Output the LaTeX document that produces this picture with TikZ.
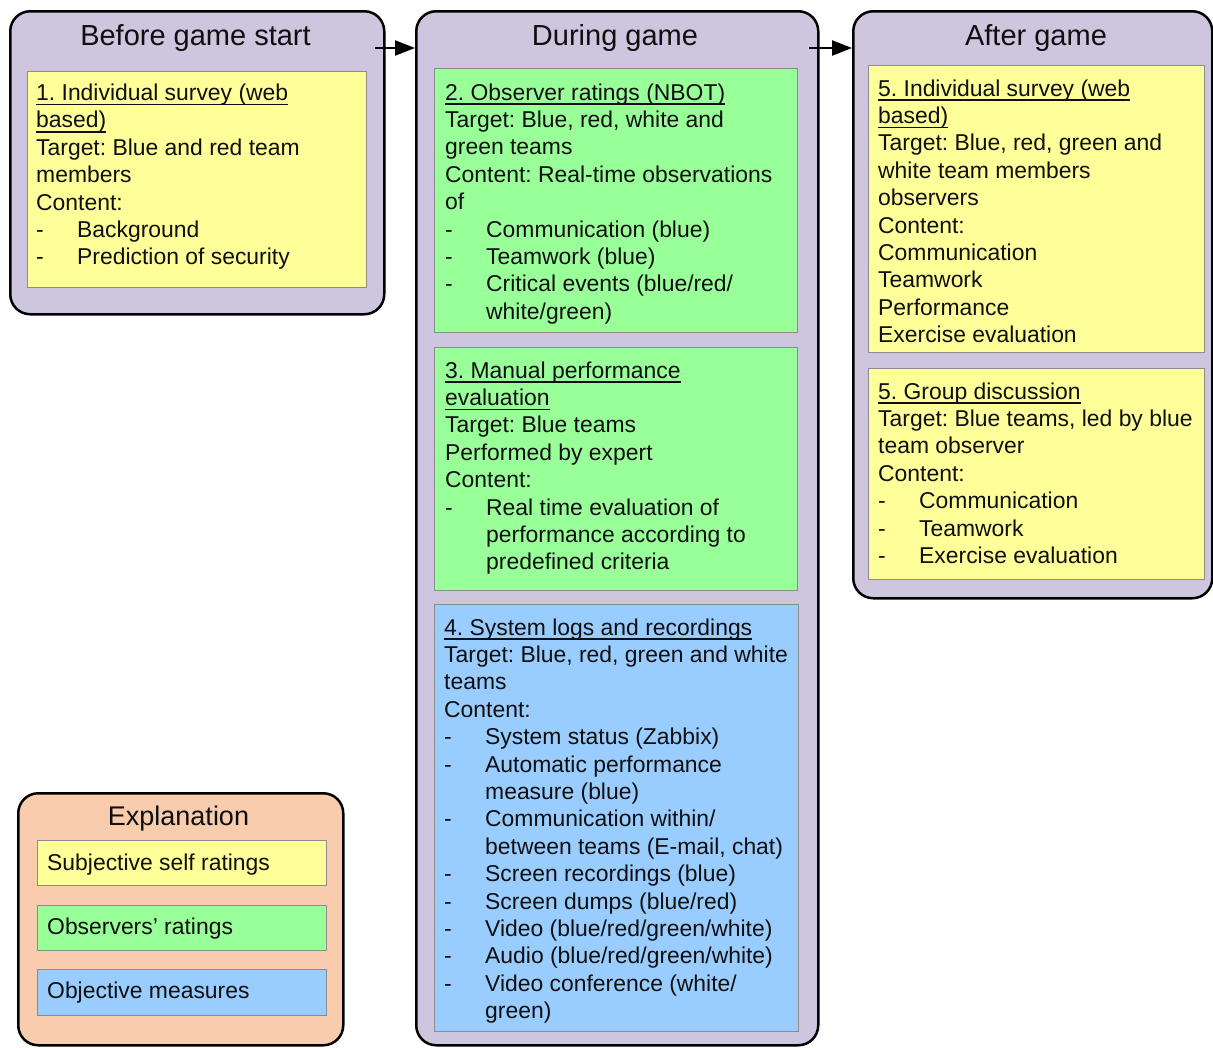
\documentclass[tikz,border=0pt]{standalone}
\usepackage{fontspec}
\setmainfont{Liberation Sans}
\usetikzlibrary{arrows.meta}
\definecolor{lav}{RGB}{205,198,222}
\definecolor{peach}{RGB}{248,204,172}
\definecolor{ylw}{RGB}{255,255,153}
\definecolor{grn}{RGB}{153,255,153}
\definecolor{blu}{RGB}{153,204,255}
\definecolor{ink}{RGB}{15,15,15}
\frenchspacing
\newcommand\myul[1]{\leavevmode\setbox0\hbox{#1}\rlap{\rule[-4.6pt]{\wd0}{1.3pt}}\box0}
\newcommand\bul[1]{\leavevmode\makebox[41pt][l]{-}#1}
\newcommand\cont[1]{\leavevmode\hspace*{41pt}#1}
\newcommand\bodyfont{\fontsize{22.9pt}{27.4pt}\selectfont}
\tikzset{
  outerbox/.style={draw=black, line width=2.5pt, rounded corners=20pt, anchor=north west, inner sep=0pt},
  innerbox/.style={draw=black!45, line width=1pt, anchor=north west, inner sep=0pt},
  txt/.style={anchor=base west, inner sep=0pt, font=\bodyfont, text=ink},
  ttl/.style={anchor=base, inner sep=0pt, font=\fontsize{29pt}{34pt}\selectfont, text=ink},
  arr/.style={line width=2.2pt, -{Triangle[length=20pt,width=15pt]}}
}
\begin{document}
\begin{tikzpicture}[x=1pt,y=-1pt]
\useasboundingbox (0,0) rectangle (1213,1047);
% outer boxes
\node[outerbox, fill=lav, minimum width=374pt, minimum height=303pt] (before) at (9,10) {};
\node[outerbox, fill=lav, minimum width=402pt, minimum height=1034pt] (during) at (415,10) {};
\node[outerbox, fill=lav, minimum width=359pt, minimum height=587pt] (after) at (852,10) {};
\node[outerbox, fill=peach, minimum width=325pt, minimum height=252pt] (expl) at (17,792) {};
% inner boxes
\node[innerbox, fill=ylw, minimum width=339pt, minimum height=216pt] (b1) at (27,71) {};
\node[innerbox, fill=grn, minimum width=363pt, minimum height=264pt] (b2) at (434,68) {};
\node[innerbox, fill=grn, minimum width=363pt, minimum height=243pt] (b3) at (434,347) {};
\node[innerbox, fill=blu, minimum width=364pt, minimum height=427pt] (b4) at (434,604) {};
\node[innerbox, fill=ylw, minimum width=336pt, minimum height=287pt] (b5) at (868,65) {};
\node[innerbox, fill=ylw, minimum width=336pt, minimum height=211pt] (b6) at (868,368) {};
\node[innerbox, fill=ylw, minimum width=289pt, minimum height=45pt] (l1) at (37,840) {};
\node[innerbox, fill=grn, minimum width=289pt, minimum height=45pt] (l2) at (37,905) {};
\node[innerbox, fill=blu, minimum width=289pt, minimum height=46pt] (l3) at (37,969) {};
% titles
\node[ttl] (tbefore) at (195.5,45) {Before game start};
\node[ttl] (tduring) at (615,45) {During game};
\node[ttl] (tafter) at (1036,45) {After game};
\node[ttl, font=\fontsize{27pt}{32pt}\selectfont] (texpl) at (178.5,825) {Explanation};
% texts
\node[txt] (x1) at (36,100.5) {\parbox[t]{380pt}{\bodyfont
\myul{1. Individual survey (web}\\
\myul{based)}\\
Target: Blue and red team\\
members\\
Content:\\
\bul{Background}\\
\bul{Prediction of security}}};
\node[txt] (x2) at (445,100) {\parbox[t]{380pt}{\bodyfont
\myul{2. Observer ratings (NBOT)}\\
Target: Blue, red, white and\\
green teams\\
Content: Real-time observations\\
of\\
\bul{Communication (blue)}\\
\bul{Teamwork (blue)}\\
\bul{Critical events (blue/red/}\\
\cont{white/green)}}};
\node[txt] (x3) at (445,378) {\parbox[t]{380pt}{\bodyfont
\myul{3. Manual performance}\\
\myul{evaluation}\\
Target: Blue teams\\
Performed by expert\\
Content:\\
\bul{Real time evaluation of}\\
\cont{performance according to}\\
\cont{predefined criteria}}};
\node[txt] (x4) at (444,635) {\parbox[t]{380pt}{\bodyfont
\myul{4. System logs and recordings}\\
Target: Blue, red, green and white\\
teams\\
Content:\\
\bul{System status (Zabbix)}\\
\bul{Automatic performance}\\
\cont{measure (blue)}\\
\bul{Communication within/}\\
\cont{between teams (E-mail, chat)}\\
\bul{Screen recordings (blue)}\\
\bul{Screen dumps (blue/red)}\\
\bul{Video (blue/red/green/white)}\\
\bul{Audio (blue/red/green/white)}\\
\bul{Video conference (white/}\\
\cont{green)}}};
\node[txt] (x5) at (878,96) {\parbox[t]{380pt}{\bodyfont
\myul{5. Individual survey (web}\\
\myul{based)}\\
Target: Blue, red, green and\\
white team members\\
observers\\
Content:\\
Communication\\
Teamwork\\
Performance\\
Exercise evaluation}};
\node[txt] (x6) at (878,399) {\parbox[t]{380pt}{\bodyfont
\myul{5. Group discussion}\\
Target: Blue teams, led by blue\\
team observer\\
Content:\\
\bul{Communication}\\
\bul{Teamwork}\\
\bul{Exercise evaluation}}};
\node[txt] (lt1) at (47,870) {Subjective self ratings};
\node[txt] (lt2) at (47,934.5) {Observers’ ratings};
\node[txt] (lt3) at (47,998.5) {Objective measures};
% arrows
\coordinate (a1) at (375,48);
\coordinate (a2) at (809,48);
\draw[arr] (a1) -- (a1 -| during.west);
\draw[arr] (a2) -- (a2 -| after.west);
\end{tikzpicture}
\end{document}
